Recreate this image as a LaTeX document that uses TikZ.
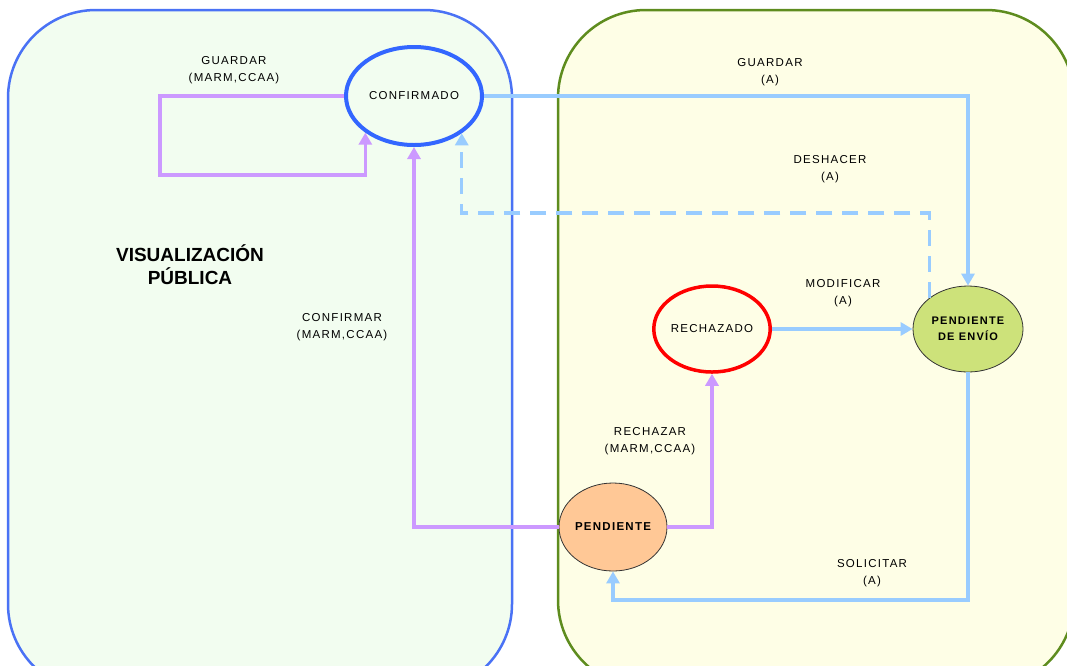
\documentclass[tikz,border=0pt]{standalone}
\usepackage{fontspec}
\setmainfont{Liberation Sans}
\newfontfamily\etiqfont[LetterSpace=11]{Liberation Sans}
\usetikzlibrary{arrows.meta, shapes.geometric}

\definecolor{violeta}{HTML}{CC99FF}
\definecolor{celeste}{HTML}{99CCFF}
\definecolor{bordeazul}{HTML}{4A72F5}
\definecolor{azulconf}{HTML}{3366FF}
\definecolor{fondoverde}{HTML}{F2FDF0}
\definecolor{fondoamarillo}{HTML}{FEFEE6}
\definecolor{bordeverde}{HTML}{5E8C1E}
\definecolor{verdeenvio}{HTML}{CDE27A}
\definecolor{naranja}{HTML}{FFC896}

\begin{document}
\begin{tikzpicture}[x=1pt, y=-1pt,
  zona/.style={line width=2.5pt, rounded corners=88pt},
  estado/.style={ellipse, inner sep=0pt, align=center,
    font=\etiqfont\fontsize{11.5}{16}\selectfont},
  etiqueta/.style={align=center, inner sep=0pt,
    font=\etiqfont\fontsize{11.5}{17}\selectfont},
  flecha/.style={line width=3.5pt, -{Triangle[length=12pt,width=13pt]}},
  morado/.style={flecha, draw=violeta},
  azul/.style={flecha, draw=celeste}]

\useasboundingbox (0,0) rectangle (1067,665);
\clip (0,0) rectangle (1067,665);

% two zones (their bottom runs off the page)
\draw[zona, draw=bordeazul, fill=fondoverde] (8,10) rectangle (512,692);
\draw[zona, draw=bordeverde, fill=fondoamarillo] (558,10) rectangle (1074,688);

% zone title
\node[font=\bfseries\fontsize{19}{23}\selectfont, align=center] (titulo) at (190,265)
  {VISUALIZACIÓN\\PÚBLICA};

% states
\node[estado, draw=azulconf, line width=4pt, fill=fondoverde,
  minimum width=136pt, minimum height=98pt] (conf) at (414,96) {CONFIRMADO};
\node[estado, draw=red, line width=3.5pt, fill=fondoamarillo,
  minimum width=110pt, minimum height=86pt] (rech) at (712,329) {RECHAZADO};
\node[estado, draw=black!80, line width=0.8pt, fill=verdeenvio,
  minimum width=110pt, minimum height=86pt,
  font=\etiqfont\bfseries\fontsize{11}{16}\selectfont] (envio) at (968,329)
  {PENDIENTE\\DE ENVÍO};
\node[estado, draw=black!80, line width=0.8pt, fill=naranja,
  minimum width=108pt, minimum height=88pt,
  font=\etiqfont\bfseries\fontsize{11.5}{16}\selectfont] (pend) at (613,527) {PENDIENTE};

% helper heights for the bends
\coordinate (deshY) at (0,213);
\coordinate (solY) at (0,600);

% transitions
\draw[morado] (conf.west) -| (160,175) -| (conf.217);
\draw[azul] (conf.east) -| (envio.north);
\draw[azul, dash pattern=on 16pt off 10pt] (envio.141) -- (envio.141 |- deshY) -| (conf.322);
\draw[azul] (rech.east) -- (envio.west);
\draw[azul] (envio.south) -- (envio.south |- solY) -| (pend.south);
\draw[morado] (pend.east) -| (rech.south);
\draw[morado] (pend.west) -| (conf.south);

% labels of the transitions
\node[etiqueta] (lguardarm) at (234,70) {GUARDAR\\(MARM,CCAA)};
\node[etiqueta] (lguardara) at (770,72) {GUARDAR\\(A)};
\node[etiqueta] (ldeshacer) at (830,169) {DESHACER\\(A)};
\node[etiqueta] (lmodificar) at (843,293) {MODIFICAR\\(A)};
\node[etiqueta] (lconfirmar) at (342,327) {CONFIRMAR\\(MARM,CCAA)};
\node[etiqueta] (lrechazar) at (650,441) {RECHAZAR\\(MARM,CCAA)};
\node[etiqueta] (lsolicitar) at (872,573) {SOLICITAR\\(A)};

\end{tikzpicture}
\end{document}
